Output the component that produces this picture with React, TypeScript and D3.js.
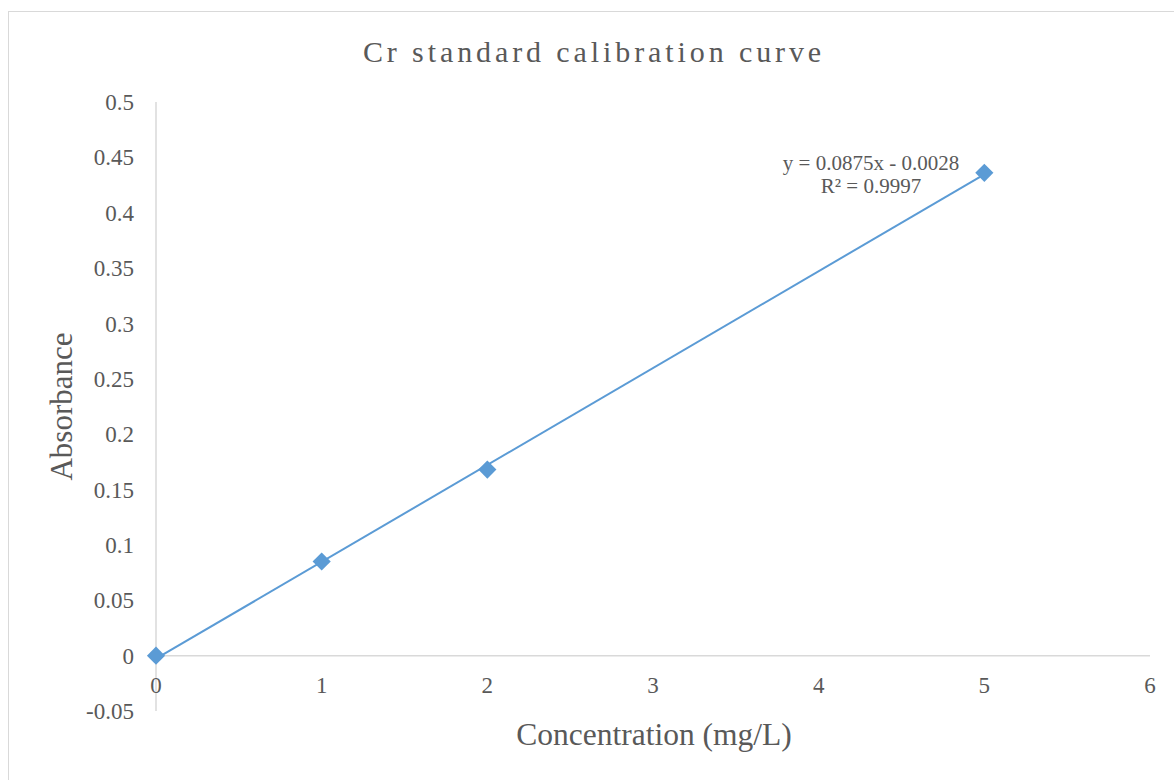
import React from "react";
import * as d3 from "d3";

// Calibration standards for chromium
const concentrations = [0, 1, 2, 5];
const absorbances = [0.0, 0.085, 0.168, 0.436];

// Linear fit reported on the chart
const slope = 0.0875;
const intercept = -0.0028;
const equationLabel = "y = 0.0875x - 0.0028";
const r2Label = "R² = 0.9997";

const xTicks = [0, 1, 2, 3, 4, 5, 6];
const yTicks = [-0.05, 0, 0.05, 0.1, 0.15, 0.2, 0.25, 0.3, 0.35, 0.4, 0.45, 0.5];
const yTickLabels = ["-0.05", "0", "0.05", "0.1", "0.15", "0.2", "0.25", "0.3", "0.35", "0.4", "0.45", "0.5"];

const title = "Cr standard calibration curve";
const xTitle = "Concentration (mg/L)";
const yTitle = "Absorbance";

const W = 1174;
const H = 780;
const FONT = "'Liberation Serif', 'Times New Roman', serif";
const TEXT = "#595959";
const AXIS = "#d9d9d9";
const BLUE = "#5B9BD5";

export default function App() {
  const x = d3.scaleLinear().domain([0, 6]).range([156, 1150]);
  const y = d3.scaleLinear().domain([-0.05, 0.5]).range([711, 102]);

  const fitLine = d3
    .line<number>()
    .x((c) => x(c))
    .y((c) => y(slope * c + intercept));

  const fitXs = [d3.min(concentrations)!, d3.max(concentrations)!];
  const marker = d3.symbol().type(d3.symbolSquare).size(165)();

  return (
    <svg
      width={W}
      height={H}
      style={{ position: "absolute", left: 0, top: 0, background: "#fff" }}
    >
      <rect x={0} y={0} width={W} height={H} fill="#fff" />
      <rect x={8.5} y={11.5} width={1172} height={780} fill="#fff" stroke={AXIS} strokeWidth={1} />

      <text
        x={594}
        y={62}
        textAnchor="middle"
        fontFamily={FONT}
        fontSize={30}
        letterSpacing={3.9}
        fill={TEXT}
      >
        {title}
      </text>

      {/* axes */}
      <line x1={x(0)} x2={x(0)} y1={y(0.5)} y2={y(-0.05)} stroke={AXIS} strokeWidth={1.5} />
      <line x1={x(0)} x2={x(6)} y1={y(0)} y2={y(0)} stroke={AXIS} strokeWidth={1.5} />

      {yTicks.map((t, i) => (
        <text
          key={"y" + i}
          x={134}
          y={y(t)}
          dy="0.35em"
          textAnchor="end"
          fontFamily={FONT}
          fontSize={23}
          fill={TEXT}
        >
          {yTickLabels[i]}
        </text>
      ))}

      {xTicks.map((t) => (
        <text
          key={"x" + t}
          x={x(t)}
          y={693}
          textAnchor="middle"
          fontFamily={FONT}
          fontSize={23}
          fill={TEXT}
        >
          {t}
        </text>
      ))}

      <text
        x={654}
        y={745}
        textAnchor="middle"
        fontFamily={FONT}
        fontSize={31.5}
        fill={TEXT}
      >
        {xTitle}
      </text>
      <text
        transform={`translate(72, ${(y(0.5) + y(-0.05)) / 2}) rotate(-90)`}
        textAnchor="middle"
        fontFamily={FONT}
        fontSize={31}
        fill={TEXT}
      >
        {yTitle}
      </text>

      {/* trendline */}
      <path d={fitLine(fitXs) || ""} fill="none" stroke={BLUE} strokeWidth={2} />

      {/* data points */}
      {concentrations.map((c, i) => (
        <path
          key={"p" + i}
          d={marker || ""}
          transform={`translate(${x(c)}, ${y(absorbances[i])}) rotate(45)`}
          fill={BLUE}
        />
      ))}

      {/* fit annotation */}
      <text x={871} y={170} textAnchor="middle" fontFamily={FONT} fontSize={21} fill={TEXT}>
        {equationLabel}
      </text>
      <text x={871} y={193} textAnchor="middle" fontFamily={FONT} fontSize={21} fill={TEXT}>
        {r2Label}
      </text>
    </svg>
  );
}
